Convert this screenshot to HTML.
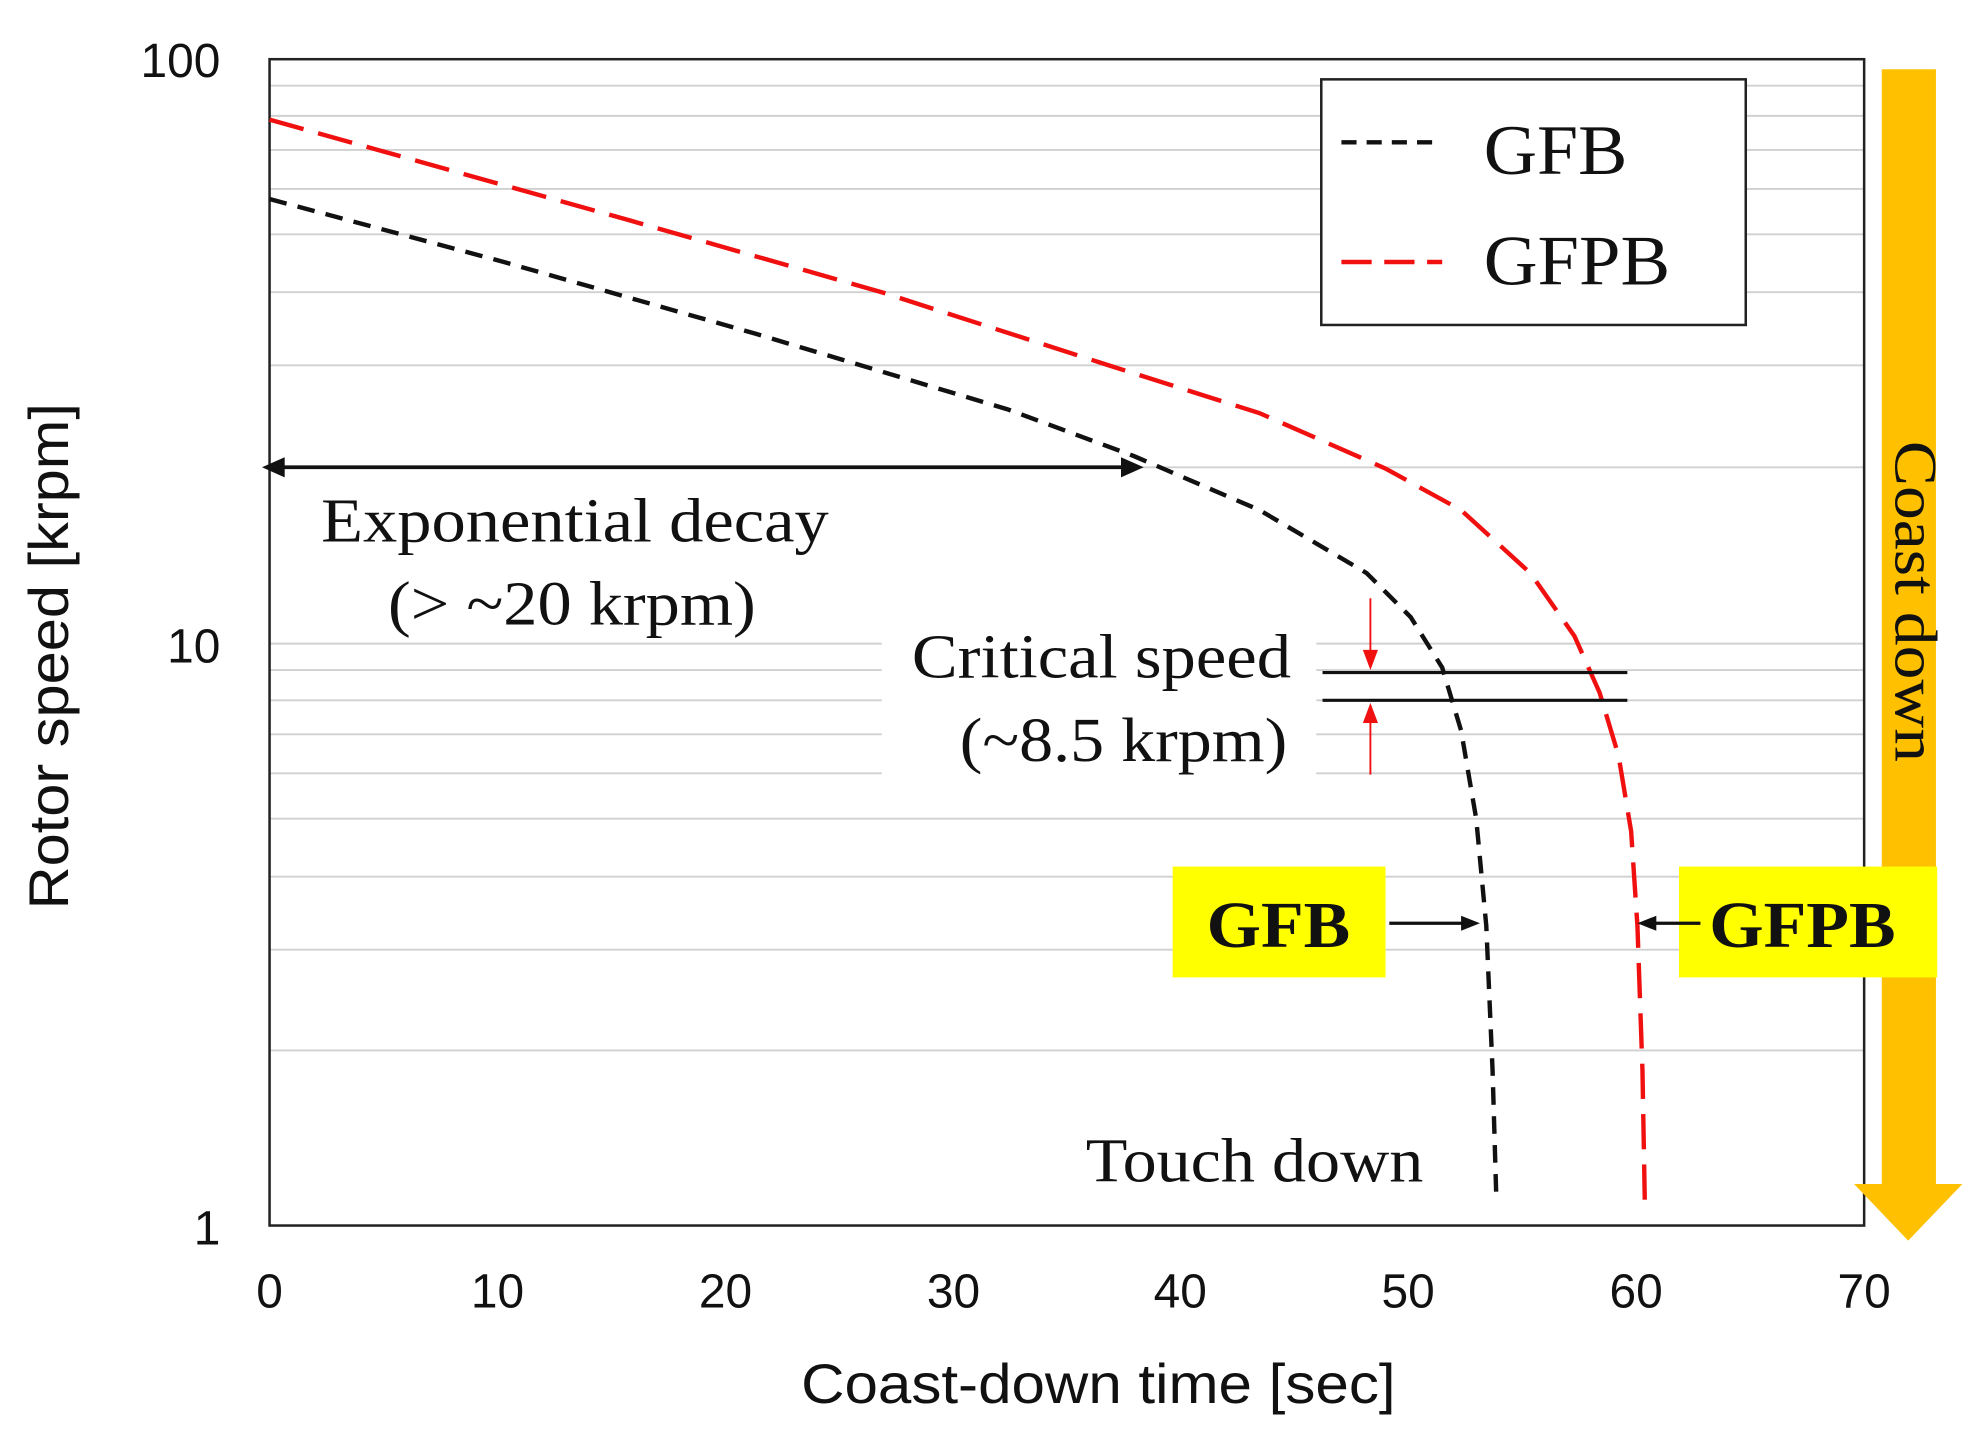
<!DOCTYPE html>
<html><head><meta charset="utf-8"><style>html,body{margin:0;padding:0;background:#fff}svg{display:block}</style></head>
<body>
<svg width="1975" height="1451" viewBox="0 0 1568 1152" xmlns="http://www.w3.org/2000/svg">
<rect width="1568" height="1152" fill="#fff"/>
<g stroke="#d0d0d0" stroke-width="1.5">
<line x1="214" x2="1480" y1="68" y2="68"/><line x1="214" x2="1480" y1="92" y2="92"/><line x1="214" x2="1480" y1="119" y2="119"/><line x1="214" x2="1480" y1="150" y2="150"/><line x1="214" x2="1480" y1="186" y2="186"/><line x1="214" x2="1480" y1="232" y2="232"/><line x1="214" x2="1480" y1="290" y2="290"/><line x1="214" x2="1480" y1="371" y2="371"/>
<line x1="214" x2="1480" y1="532" y2="532"/><line x1="214" x2="1480" y1="556" y2="556"/><line x1="214" x2="1480" y1="583" y2="583"/><line x1="214" x2="1480" y1="614" y2="614"/><line x1="214" x2="1480" y1="650" y2="650"/><line x1="214" x2="1480" y1="696" y2="696"/><line x1="214" x2="1480" y1="754" y2="754"/><line x1="214" x2="1480" y1="834" y2="834"/>
<line x1="214" x2="1480" y1="511" y2="511"/>
</g>
<rect x="700" y="492" width="345" height="125" fill="#fff"/>
<rect x="214" y="47" width="1266" height="926" fill="none" stroke="#222" stroke-width="2"/>
<g font-family="Liberation Sans, sans-serif" font-size="38" fill="#111">
<text x="175" y="61" text-anchor="end">100</text><text x="175" y="526" text-anchor="end">10</text><text x="175" y="988" text-anchor="end">1</text>
<g text-anchor="middle"><text x="214" y="1038">0</text><text x="395" y="1038">10</text><text x="576" y="1038">20</text><text x="757" y="1038">30</text><text x="937" y="1038">40</text><text x="1118" y="1038">50</text><text x="1299" y="1038">60</text><text x="1480" y="1038">70</text></g>
<text x="636" y="1114" font-size="44" textLength="472" lengthAdjust="spacingAndGlyphs">Coast-down  time [sec]</text>
<text transform="translate(54,722) rotate(-90)" font-size="44" textLength="402" lengthAdjust="spacingAndGlyphs">Rotor speed [krpm]</text>
</g>
<path d="M214,158 L400,208 L600,265 L800,325 L900,362 L1000,405 L1085,455 L1120,490 L1145,530 L1160,580 L1172,650 L1180,735 L1185,850 L1188,952" fill="none" stroke="#111" stroke-width="3.5" stroke-dasharray="14,9"/>
<path d="M214,95 L500,175 L700,232 L880,290 L1000,328 L1100,372 L1160,405 L1215,455 L1250,505 L1270,550 L1285,600 L1295,660 L1300,735 L1304,850 L1306,962" fill="none" stroke="#f01010" stroke-width="3.5" stroke-dasharray="28,12"/>
<line x1="222" y1="371" x2="895" y2="371" stroke="#111" stroke-width="3"/>
<polygon points="208,371 226,363 226,379" fill="#111"/><polygon points="908,371 890,363 890,379" fill="#111"/>
<g font-family="Liberation Serif, serif" font-size="50" fill="#111" lengthAdjust="spacingAndGlyphs">
<text x="255" y="430" textLength="403" lengthAdjust="spacingAndGlyphs">Exponential decay</text>
<text x="308" y="496" textLength="292" lengthAdjust="spacingAndGlyphs">(&gt; ~20 krpm)</text>
<text x="724" y="538" textLength="301" lengthAdjust="spacingAndGlyphs">Critical speed</text>
<text x="762" y="604" textLength="260" lengthAdjust="spacingAndGlyphs">(~8.5 krpm)</text>
<text x="862" y="938" textLength="268" lengthAdjust="spacingAndGlyphs">Touch down</text>
</g>
<line x1="1050" y1="534" x2="1292" y2="534" stroke="#111" stroke-width="2.5"/>
<line x1="1050" y1="556" x2="1292" y2="556" stroke="#111" stroke-width="2.5"/>
<line x1="1088" y1="475" x2="1088" y2="520" stroke="#f01010" stroke-width="1.5"/><polygon points="1088,532 1082,516 1094,516" fill="#f01010"/>
<line x1="1088" y1="615" x2="1088" y2="570" stroke="#f01010" stroke-width="1.5"/><polygon points="1088,558 1082,574 1094,574" fill="#f01010"/>
<rect x="1049" y="63" width="337" height="195" fill="#fff" stroke="#222" stroke-width="2"/>
<line x1="1065" y1="113" x2="1145" y2="113" stroke="#111" stroke-width="3.5" stroke-dasharray="12,8"/>
<line x1="1065" y1="208" x2="1145" y2="208" stroke="#f01010" stroke-width="3.5" stroke-dasharray="24,10"/>
<g font-family="Liberation Serif, serif" font-size="56" fill="#111"><text x="1178" y="138" textLength="114" lengthAdjust="spacingAndGlyphs">GFB</text><text x="1178" y="226" textLength="148" lengthAdjust="spacingAndGlyphs">GFPB</text></g>
<rect x="1494" y="55" width="43" height="887" fill="#ffc000"/>
<polygon points="1472,940 1558,940 1515,985" fill="#ffc000"/>
<text transform="translate(1505,350) rotate(90)" font-family="Liberation Serif, serif" font-size="48" fill="#111" textLength="255" lengthAdjust="spacingAndGlyphs">Coast down</text>
<rect x="931" y="688" width="169" height="88" fill="#ffff00"/>
<rect x="1333" y="688" width="205" height="88" fill="#ffff00"/>
<g font-family="Liberation Serif, serif" font-size="52" font-weight="bold" fill="#111"><text x="958" y="752" textLength="114" lengthAdjust="spacingAndGlyphs">GFB</text><text x="1357" y="752" textLength="148" lengthAdjust="spacingAndGlyphs">GFPB</text></g>
<line x1="1103" y1="733" x2="1163" y2="733" stroke="#111" stroke-width="2.5"/><polygon points="1175,733 1160,727 1160,739" fill="#111"/>
<line x1="1350" y1="733" x2="1312" y2="733" stroke="#111" stroke-width="2.5"/><polygon points="1300,733 1315,727 1315,739" fill="#111"/>
</svg>
</body></html>
